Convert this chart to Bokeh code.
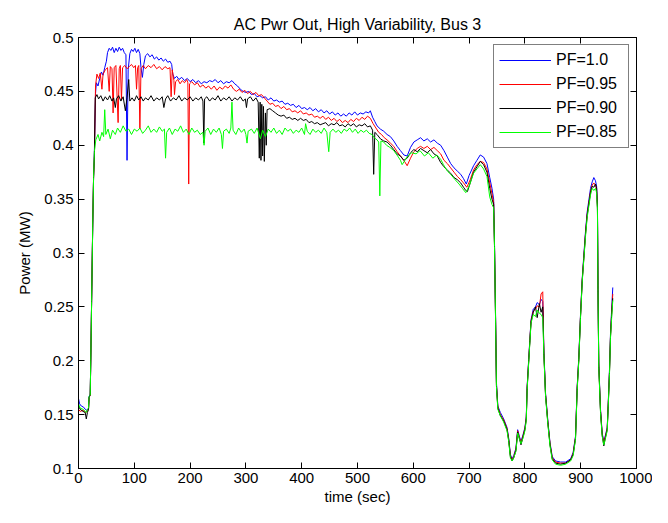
from bokeh.plotting import figure
from bokeh.models import (Range1d, LinearAxis, FixedTicker, CustomJSTickFormatter,
                          Legend, LegendItem)
from bokeh.embed import file_html
from bokeh.resources import INLINE

# ---------------- data (time in s, power in MW) ----------------
x_ticks = [0, 100, 200, 300, 400, 500, 600, 700, 800, 900, 1000]
y_ticks = [0.1, 0.15, 0.2, 0.25, 0.3, 0.35, 0.4, 0.45, 0.5]
series_names = ["PF=1.0", "PF=0.95", "PF=0.90", "PF=0.85"]
series_colors = ["#0000FF", "#FF0000", "#000000", "#00FF00"]

pf100_early = [
    (0, 0.165), (2, 0.160), (5, 0.158), (9, 0.157), (12, 0.155), (15, 0.154), (18, 0.156),
    (19, 0.167), (21, 0.169), (22, 0.200), (23.5, 0.256), (25.5, 0.326), (27, 0.370),
    (28.5, 0.395), (30.5, 0.448), (32, 0.458), (35, 0.455), (38, 0.462), (41, 0.468),
    (44, 0.465), (47, 0.472), (50, 0.478), (52, 0.486), (55, 0.490), (58, 0.488), (61, 0.491),
    (64, 0.486), (67, 0.490), (70, 0.487), (73, 0.491), (76, 0.488), (79, 0.490), (82, 0.486),
    (85, 0.484), (87, 0.386), (89, 0.470), (92, 0.485), (95, 0.489), (98, 0.487), (101, 0.490),
    (104, 0.486), (107, 0.489), (110, 0.485), (112, 0.472), (114.5, 0.463), (117, 0.475),
    (120, 0.483), (124, 0.485), (128, 0.482), (132, 0.484), (136, 0.480), (140, 0.482),
    (144, 0.479), (148, 0.481), (152, 0.478), (156, 0.480), (160, 0.477), (164, 0.478),
    (167, 0.475), (169, 0.466), (172, 0.462), (176, 0.464), (180, 0.461), (185, 0.463),
    (190, 0.460), (195, 0.462), (200, 0.459), (205, 0.461), (210, 0.458), (215, 0.460),
    (220, 0.457), (225, 0.459), (230, 0.458), (235, 0.460), (240, 0.459), (245, 0.461),
    (250, 0.458), (255, 0.460), (260, 0.457), (265, 0.459), (270, 0.458), (275, 0.460),
    (280, 0.457), (285, 0.455), (290, 0.452), (295, 0.450), (300, 0.449), (305, 0.450),
    (310, 0.447), (315, 0.448), (320, 0.445), (325, 0.446), (330, 0.444), (335, 0.445),
    (340, 0.442), (345, 0.444), (350, 0.441), (355, 0.442), (360, 0.440), (365, 0.441),
    (370, 0.438), (375, 0.439), (380, 0.437), (385, 0.438), (390, 0.435), (395, 0.437),
    (400, 0.434), (405, 0.435), (410, 0.433), (415, 0.435), (420, 0.432), (425, 0.434),
    (430, 0.431), (435, 0.433), (440, 0.430), (445, 0.432), (450, 0.429), (455, 0.431),
    (460, 0.428), (465, 0.430), (470, 0.427), (475, 0.429), (480, 0.427), (485, 0.430),
    (490, 0.428), (495, 0.431), (500, 0.428), (505, 0.430), (510, 0.429), (515, 0.431),
    (520, 0.430), (523, 0.432), (527, 0.426), (531, 0.422), (535, 0.418), (541, 0.415),
    (547, 0.413), (553, 0.410), (559, 0.408), (565, 0.404), (571, 0.399), (577, 0.395),
    (583, 0.391), (589, 0.390), (595, 0.398), (601, 0.403), (607, 0.405), (613, 0.407),
    (619, 0.404), (625, 0.406), (631, 0.403), (637, 0.405), (643, 0.402), (649, 0.400),
    (655, 0.395), (661, 0.389), (667, 0.383), (673, 0.379), (679, 0.376), (685, 0.373),
    (690, 0.369), (695, 0.364), (700, 0.372), (708, 0.381), (714, 0.386), (720, 0.391),
    (726, 0.389), (732, 0.383), (737, 0.370), (741, 0.360),
]

pf095_early = [
    (0, 0.155), (3, 0.153), (8, 0.154), (12, 0.152), (16, 0.153), (18, 0.155), (19, 0.166),
    (21, 0.168), (22, 0.200), (23.5, 0.255), (25.5, 0.328), (27, 0.370), (28.5, 0.390),
    (30.5, 0.455), (33, 0.466), (36, 0.462), (39, 0.467), (42, 0.452), (44, 0.466),
    (48, 0.470), (52, 0.472), (55, 0.450), (57, 0.473), (60, 0.471), (62, 0.430), (64, 0.472),
    (67, 0.474), (71, 0.421), (73, 0.471), (75, 0.474), (77, 0.442), (79, 0.472), (83, 0.474),
    (87, 0.471), (91, 0.473), (95, 0.475), (99, 0.472), (102, 0.474), (104, 0.452),
    (106, 0.472), (108, 0.474), (110, 0.415), (112, 0.471), (116, 0.474), (120, 0.471),
    (125, 0.474), (130, 0.472), (135, 0.475), (140, 0.471), (145, 0.473), (150, 0.470),
    (155, 0.473), (160, 0.471), (164, 0.472), (166, 0.445), (168, 0.470), (171, 0.460),
    (172, 0.447), (174, 0.459), (178, 0.461), (182, 0.457), (186, 0.460), (190, 0.458),
    (194, 0.461), (196, 0.458), (197.5, 0.364), (199, 0.457), (203, 0.459), (208, 0.456),
    (213, 0.458), (218, 0.454), (223, 0.456), (228, 0.453), (233, 0.455), (238, 0.452),
    (243, 0.455), (248, 0.451), (253, 0.454), (258, 0.452), (263, 0.455), (268, 0.453),
    (273, 0.456), (278, 0.452), (283, 0.450), (288, 0.452), (293, 0.449), (298, 0.451),
    (303, 0.448), (308, 0.450), (313, 0.447), (318, 0.449), (323, 0.446), (328, 0.447),
    (333, 0.444), (338, 0.441), (343, 0.438), (348, 0.439), (353, 0.436), (358, 0.437),
    (363, 0.434), (368, 0.436), (373, 0.433), (378, 0.434), (383, 0.431), (388, 0.432),
    (393, 0.430), (398, 0.432), (403, 0.429), (408, 0.430), (413, 0.428), (418, 0.429),
    (423, 0.426), (428, 0.427), (433, 0.425), (438, 0.427), (443, 0.424), (448, 0.426),
    (453, 0.423), (458, 0.425), (463, 0.422), (468, 0.424), (473, 0.421), (478, 0.423),
    (483, 0.421), (488, 0.424), (493, 0.422), (498, 0.425), (503, 0.423), (508, 0.426),
    (513, 0.424), (518, 0.427), (523, 0.425), (528, 0.420), (533, 0.416), (538, 0.412),
    (543, 0.410), (548, 0.407), (553, 0.405), (559, 0.402), (565, 0.399), (571, 0.394),
    (577, 0.390), (583, 0.386), (589, 0.381), (595, 0.388), (601, 0.394), (607, 0.397),
    (613, 0.399), (619, 0.397), (625, 0.399), (631, 0.396), (637, 0.398), (643, 0.395),
    (649, 0.392), (655, 0.386), (661, 0.383), (667, 0.379), (673, 0.375), (679, 0.371),
    (685, 0.368), (690, 0.365), (696, 0.361), (702, 0.368), (708, 0.377), (714, 0.382),
    (720, 0.385), (726, 0.384), (732, 0.378), (737, 0.365), (741, 0.355),
]

pf090_early = [
    (0, 0.158), (3, 0.155), (8, 0.153), (12, 0.152), (14, 0.146), (16, 0.152), (18, 0.155),
    (19, 0.166), (21, 0.168), (22, 0.200), (23.5, 0.255), (25.5, 0.325), (27, 0.370),
    (28.5, 0.390), (30, 0.444), (33, 0.447), (36, 0.443), (40, 0.446), (44, 0.441),
    (48, 0.445), (52, 0.442), (56, 0.446), (60, 0.441), (63, 0.444), (66, 0.435), (68, 0.443),
    (72, 0.446), (76, 0.441), (80, 0.445), (84, 0.432), (87, 0.444), (90, 0.461), (92, 0.441),
    (96, 0.444), (100, 0.441), (104, 0.446), (108, 0.442), (112, 0.445), (116, 0.441),
    (120, 0.444), (125, 0.442), (130, 0.446), (135, 0.441), (140, 0.444), (145, 0.442),
    (150, 0.445), (153, 0.435), (156, 0.443), (160, 0.446), (165, 0.441), (170, 0.444),
    (175, 0.442), (180, 0.446), (185, 0.441), (190, 0.444), (195, 0.442), (200, 0.445),
    (205, 0.441), (210, 0.444), (215, 0.442), (220, 0.445), (223, 0.441), (224.6, 0.402),
    (226, 0.443), (230, 0.445), (235, 0.441), (240, 0.444), (245, 0.442), (250, 0.446),
    (255, 0.441), (260, 0.444), (265, 0.442), (270, 0.445), (275, 0.441), (280, 0.444),
    (285, 0.442), (290, 0.445), (295, 0.441), (299, 0.443), (301, 0.435), (303, 0.443),
    (308, 0.445), (313, 0.441), (318, 0.444), (322, 0.440), (324, 0.388), (325.5, 0.440),
    (327, 0.386), (328.5, 0.438), (330, 0.390), (331.5, 0.436), (333, 0.385), (335, 0.430),
    (336.5, 0.400), (338, 0.433), (343, 0.434), (348, 0.432), (353, 0.430), (358, 0.428),
    (363, 0.427), (368, 0.428), (373, 0.425), (378, 0.426), (383, 0.424), (388, 0.425),
    (393, 0.423), (398, 0.425), (403, 0.423), (408, 0.424), (413, 0.421), (418, 0.422),
    (423, 0.420), (428, 0.421), (433, 0.419), (438, 0.420), (443, 0.421), (448, 0.418),
    (453, 0.420), (458, 0.419), (463, 0.421), (468, 0.418), (473, 0.419), (478, 0.417),
    (483, 0.420), (488, 0.418), (493, 0.420), (498, 0.417), (503, 0.419), (508, 0.418),
    (513, 0.420), (518, 0.417), (523, 0.418), (527, 0.414), (529, 0.373), (531, 0.412),
    (535, 0.410), (541, 0.406), (547, 0.404), (553, 0.403), (559, 0.400), (565, 0.396),
    (571, 0.392), (577, 0.390), (583, 0.386), (589, 0.388), (595, 0.393), (601, 0.396),
    (607, 0.394), (613, 0.397), (619, 0.395), (625, 0.393), (631, 0.396), (637, 0.392),
    (643, 0.390), (649, 0.384), (655, 0.380), (661, 0.377), (667, 0.374), (673, 0.370),
    (679, 0.368), (685, 0.365), (690, 0.361), (694, 0.358), (697, 0.357), (702, 0.365),
    (708, 0.375), (714, 0.380), (720, 0.385), (726, 0.382), (732, 0.375), (737, 0.360),
    (741, 0.350),
]

pf085_early = [
    (0, 0.160), (3, 0.156), (8, 0.155), (12, 0.153), (14, 0.152), (16, 0.155), (18, 0.156),
    (19, 0.167), (21, 0.168), (22, 0.200), (23.5, 0.255), (25.5, 0.325), (27, 0.370),
    (28.5, 0.394), (31, 0.405), (35, 0.410), (38, 0.404), (42, 0.412), (45, 0.408),
    (47, 0.433), (49, 0.410), (53, 0.415), (57, 0.406), (61, 0.414), (66, 0.410), (70, 0.416),
    (75, 0.412), (80, 0.418), (85, 0.413), (90, 0.415), (95, 0.410), (100, 0.415), (105, 0.413),
    (110, 0.416), (115, 0.411), (120, 0.414), (125, 0.418), (130, 0.412), (135, 0.415),
    (140, 0.412), (145, 0.417), (150, 0.413), (154, 0.415), (156, 0.388), (158, 0.412),
    (163, 0.416), (168, 0.410), (173, 0.415), (178, 0.413), (183, 0.418), (188, 0.412),
    (193, 0.415), (198, 0.410), (203, 0.416), (208, 0.412), (213, 0.414), (218, 0.410),
    (223, 0.412), (225, 0.400), (227, 0.413), (232, 0.416), (237, 0.410), (242, 0.415),
    (247, 0.412), (252, 0.416), (256, 0.410), (258, 0.397), (260, 0.413), (265, 0.415),
    (270, 0.411), (273, 0.416), (275, 0.440), (277, 0.414), (282, 0.410), (287, 0.416),
    (292, 0.412), (297, 0.415), (300, 0.410), (302, 0.402), (304, 0.413), (310, 0.415),
    (315, 0.411), (320, 0.416), (326, 0.406), (330, 0.414), (335, 0.408), (340, 0.415),
    (345, 0.412), (350, 0.416), (355, 0.411), (360, 0.414), (365, 0.410), (370, 0.416),
    (375, 0.413), (380, 0.415), (385, 0.411), (390, 0.414), (395, 0.412), (400, 0.416),
    (405, 0.410), (407, 0.420), (410, 0.413), (415, 0.410), (420, 0.415), (425, 0.412),
    (430, 0.414), (435, 0.411), (440, 0.416), (445, 0.412), (448.5, 0.394), (451, 0.412),
    (456, 0.415), (461, 0.412), (466, 0.414), (471, 0.411), (476, 0.415), (481, 0.413),
    (486, 0.416), (491, 0.412), (496, 0.415), (501, 0.411), (506, 0.414), (511, 0.412),
    (516, 0.414), (521, 0.411), (526, 0.410), (530, 0.407), (535, 0.405), (538, 0.403),
    (540, 0.353), (542, 0.404), (547, 0.403), (552, 0.400), (558, 0.398), (565, 0.395),
    (572, 0.390), (577, 0.386), (580, 0.382), (585, 0.386), (590, 0.390), (597, 0.393),
    (605, 0.392), (612, 0.395), (620, 0.390), (627, 0.393), (635, 0.388), (642, 0.391),
    (649, 0.387), (654, 0.382), (661, 0.376), (667, 0.373), (675, 0.368), (682, 0.364),
    (688, 0.360), (694, 0.356), (700, 0.362), (708, 0.374), (714, 0.378), (720, 0.382),
    (726, 0.378), (732, 0.371), (737, 0.352), (741, 0.345),
]

tail_t = [744, 745.5, 747.5, 749, 751.5, 756, 762, 768, 771, 774,
          777, 780, 784, 787, 790, 793, 797, 800, 802.5, 804,
          807, 809, 811, 815, 819, 822, 826, 829, 832, 834,
          837, 841, 845, 849, 855, 864, 873, 882, 886.5, 890.7,
          893.7, 896.6, 899.6, 902.7, 905.6, 908.6, 911.6, 917.6, 920.6, 923.5,
          926.5, 928.5, 930, 931, 932.4, 935.5, 938.5, 941.4, 944.4, 947.5,
          949.3, 951.6, 953.4, 955.5, 957.5]

pf100_tail = [0.350, 0.310, 0.240, 0.180, 0.158, 0.152, 0.146, 0.138, 0.128, 0.113,
              0.109, 0.112, 0.119, 0.136, 0.130, 0.125, 0.132, 0.138, 0.148, 0.176,
              0.203, 0.221, 0.238, 0.248, 0.250, 0.254, 0.252, 0.257, 0.255, 0.210,
              0.170, 0.145, 0.124, 0.111, 0.107, 0.106, 0.106, 0.109, 0.115, 0.130,
              0.176, 0.203, 0.242, 0.276, 0.298, 0.320, 0.338, 0.360, 0.366, 0.370,
              0.367, 0.362, 0.345, 0.270, 0.198, 0.155, 0.133, 0.125, 0.131, 0.138,
              0.160, 0.192, 0.225, 0.248, 0.268]

pf095_tail = [0.347, 0.308, 0.238, 0.178, 0.157, 0.150, 0.145, 0.137, 0.127, 0.112,
              0.108, 0.111, 0.118, 0.135, 0.129, 0.124, 0.131, 0.137, 0.147, 0.175,
              0.202, 0.220, 0.237, 0.246, 0.248, 0.251, 0.250, 0.262, 0.264, 0.208,
              0.169, 0.144, 0.123, 0.110, 0.106, 0.105, 0.105, 0.108, 0.114, 0.129,
              0.175, 0.202, 0.241, 0.275, 0.296, 0.318, 0.336, 0.357, 0.363, 0.365,
              0.363, 0.359, 0.343, 0.267, 0.196, 0.154, 0.132, 0.124, 0.130, 0.137,
              0.159, 0.190, 0.223, 0.245, 0.262]

pf090_tail = [0.345, 0.307, 0.236, 0.177, 0.156, 0.149, 0.144, 0.136, 0.126, 0.111,
              0.107, 0.110, 0.117, 0.134, 0.128, 0.122, 0.130, 0.136, 0.146, 0.174,
              0.201, 0.219, 0.236, 0.245, 0.250, 0.240, 0.253, 0.245, 0.250, 0.207,
              0.168, 0.143, 0.122, 0.109, 0.105, 0.104, 0.105, 0.108, 0.113, 0.128,
              0.174, 0.201, 0.240, 0.274, 0.295, 0.317, 0.335, 0.356, 0.362, 0.361,
              0.364, 0.360, 0.342, 0.266, 0.195, 0.153, 0.131, 0.121, 0.129, 0.136,
              0.158, 0.189, 0.222, 0.243, 0.258]

pf085_tail = [0.342, 0.306, 0.235, 0.176, 0.155, 0.149, 0.143, 0.135, 0.125, 0.110,
              0.107, 0.110, 0.116, 0.133, 0.128, 0.123, 0.129, 0.135, 0.145, 0.173,
              0.200, 0.218, 0.235, 0.243, 0.241, 0.247, 0.244, 0.243, 0.240, 0.206,
              0.167, 0.142, 0.121, 0.108, 0.104, 0.103, 0.104, 0.107, 0.112, 0.127,
              0.173, 0.200, 0.239, 0.273, 0.294, 0.315, 0.333, 0.354, 0.360, 0.358,
              0.360, 0.356, 0.340, 0.264, 0.194, 0.152, 0.130, 0.122, 0.128, 0.135,
              0.157, 0.188, 0.221, 0.240, 0.256]

# ---------------- figure ----------------
FONT = "Liberation Sans"

p = figure(width=652, height=507, output_backend="svg", toolbar_location=None,
           x_range=Range1d(0, 1000), y_range=Range1d(0.1, 0.5),
           min_border_left=78, min_border_right=16, min_border_top=37, min_border_bottom=39,
           title="AC Pwr Out, High Variability, Bus 3")
p.title.align = "center"
p.title.text_font = FONT
p.title.text_font_style = "normal"
p.title.text_font_size = "16px"
p.title.text_color = "#000000"

p.grid.visible = False
p.outline_line_color = "#000000"
p.outline_line_width = 1
p.background_fill_color = "#FFFFFF"
p.border_fill_color = "#FFFFFF"

p.xaxis.ticker = FixedTicker(ticks=x_ticks)
p.yaxis.ticker = FixedTicker(ticks=y_ticks)
p.yaxis.formatter = CustomJSTickFormatter(code="return String(Math.round(tick*100)/100);")
p.xaxis.axis_label = "time (sec)"
p.yaxis.axis_label = "Power (MW)"

for ax in (p.xaxis[0], p.yaxis[0]):
    ax.major_tick_in = 6
    ax.major_tick_out = 0
    ax.minor_tick_line_color = None
    ax.axis_line_color = "#000000"
    ax.major_tick_line_color = "#000000"
    ax.major_label_text_font = FONT
    ax.major_label_text_font_size = "15px"
    ax.major_label_text_color = "#000000"
    ax.axis_label_text_font = FONT
    ax.axis_label_text_font_size = "15px"
    ax.axis_label_text_font_style = "normal"
    ax.axis_label_text_color = "#000000"
p.xaxis.major_label_standoff = 4
p.xaxis.axis_label_standoff = 2
p.yaxis.major_label_standoff = 5
p.yaxis.axis_label_standoff = 8

blank = CustomJSTickFormatter(code="return '';")
top_ax = LinearAxis(ticker=FixedTicker(ticks=x_ticks), formatter=blank,
                    major_tick_in=6, major_tick_out=0, minor_tick_line_color=None,
                    major_label_standoff=0, axis_line_color="#000000")
right_ax = LinearAxis(ticker=FixedTicker(ticks=y_ticks), formatter=blank,
                      major_tick_in=6, major_tick_out=0, minor_tick_line_color=None,
                      major_label_standoff=0, axis_line_color="#000000")
p.add_layout(top_ax, "above")
p.add_layout(right_ax, "right")

early = [pf100_early, pf095_early, pf090_early, pf085_early]
tails = [pf100_tail, pf095_tail, pf090_tail, pf085_tail]
items = []
for name, color, e, tl in zip(series_names, series_colors, early, tails):
    xs = [pt[0] for pt in e] + list(tail_t)
    ys = [pt[1] for pt in e] + list(tl)
    r = p.line(xs, ys, line_color=color, line_width=1)
    items.append(LegendItem(label=name, renderers=[r]))

legend = Legend(items=items, location="top_right", margin=7, padding=5, spacing=4,
                glyph_width=52, glyph_height=20, label_height=20, label_width=67,
                label_standoff=5, label_text_font=FONT, label_text_font_size="16px",
                label_text_color="#000000", border_line_color="#000000",
                border_line_width=1, background_fill_color="#FFFFFF",
                background_fill_alpha=1.0)
p.add_layout(legend)

open("out.html", "w").write(file_html(p, INLINE))
